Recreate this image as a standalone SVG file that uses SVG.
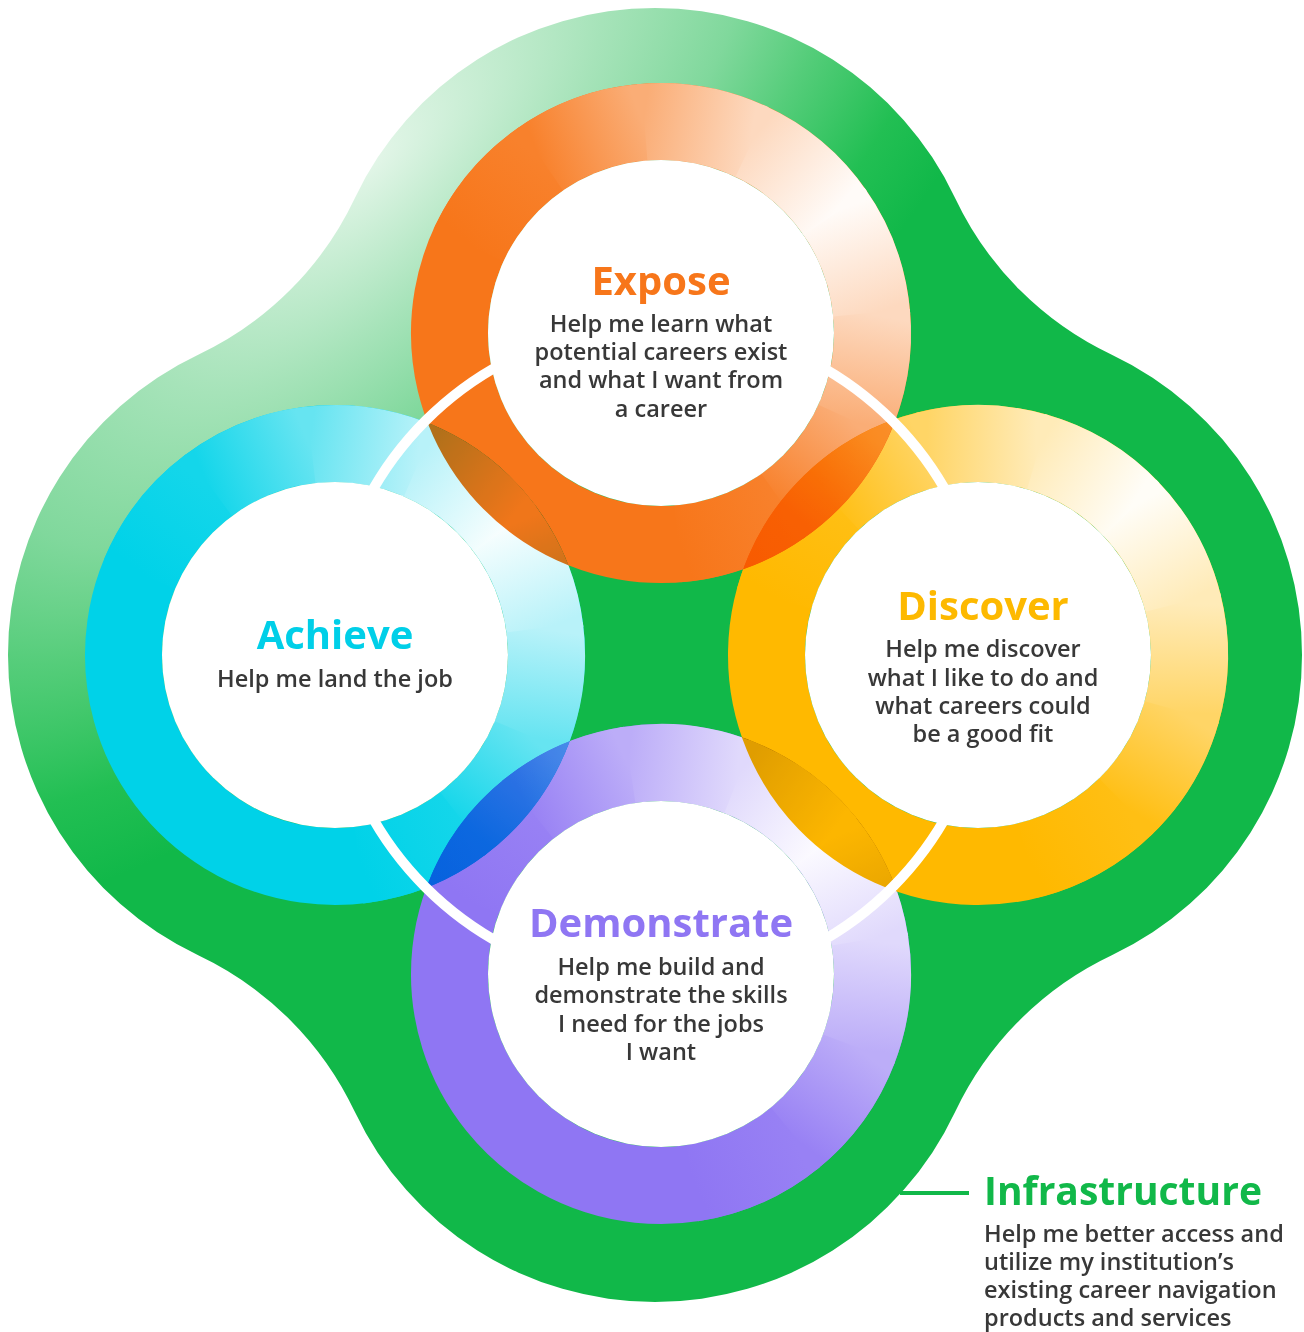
<svg xmlns="http://www.w3.org/2000/svg" width="1304" height="1332" viewBox="0 0 1304 1332">
  <style>
    .base { fill: none; stroke-width: 77; }
    .ring { mix-blend-mode: multiply; }
    .disc { fill: #ffffff; }
    .title { font-family: "Open Sans", "Noto Sans", sans-serif; font-weight: 700; font-size: 40px; text-anchor: middle; }
    .body { font-family: "Open Sans", "Noto Sans", sans-serif; font-weight: 600; font-size: 23.5px; fill: #383838; text-anchor: middle; }
    .sep { fill: none; stroke: #ffffff; stroke-width: 10; }
  </style>
  <defs>
    <!-- one 31° slice of a ring, centred on the +x axis -->
    <path id="seg" d="M203.81,-56.52 A211.5,211.5 0 0 1 203.81,56.52" fill="none" stroke-width="77"/>

    <!-- light sweep of the clover backdrop -->
    <radialGradient id="gGreen" gradientUnits="userSpaceOnUse" cx="0" cy="0" r="1" gradientTransform="translate(370 160) rotate(-45) scale(1000 450)">
      <stop offset="0" stop-color="#E4F6E9"/>
      <stop offset="0.3" stop-color="#A6E3B9"/>
      <stop offset="0.5" stop-color="#80D89C"/>
      <stop offset="0.65" stop-color="#55CD7A"/>
      <stop offset="0.85" stop-color="#22BF53"/>
      <stop offset="1" stop-color="#11B849"/>
    </radialGradient>

    <!-- ring fades: 0-30°, 30-60°, 60-90°, 90-120° away from the bright spot -->
    <linearGradient id="e0" gradientUnits="userSpaceOnUse" x1="0" y1="-54.74" x2="0" y2="54.74"><stop offset="0" stop-color="#FFFBF8"/><stop offset="1" stop-color="#FDD9BF"/></linearGradient>
    <linearGradient id="e1" gradientUnits="userSpaceOnUse" x1="0" y1="-54.74" x2="0" y2="54.74"><stop offset="0" stop-color="#FDD9BF"/><stop offset="1" stop-color="#FAAD76"/></linearGradient>
    <linearGradient id="e2" gradientUnits="userSpaceOnUse" x1="0" y1="-54.74" x2="0" y2="54.74"><stop offset="0" stop-color="#FAAD76"/><stop offset="1" stop-color="#F8812C"/></linearGradient>
    <linearGradient id="e3" gradientUnits="userSpaceOnUse" x1="0" y1="-54.74" x2="0" y2="54.74"><stop offset="0" stop-color="#F8812C"/><stop offset="1" stop-color="#F7761A"/></linearGradient>

    <linearGradient id="d0" gradientUnits="userSpaceOnUse" x1="0" y1="-54.74" x2="0" y2="54.74"><stop offset="0" stop-color="#FFFDF7"/><stop offset="1" stop-color="#FFEBB8"/></linearGradient>
    <linearGradient id="d1" gradientUnits="userSpaceOnUse" x1="0" y1="-54.74" x2="0" y2="54.74"><stop offset="0" stop-color="#FFEBB8"/><stop offset="1" stop-color="#FFD566"/></linearGradient>
    <linearGradient id="d2" gradientUnits="userSpaceOnUse" x1="0" y1="-54.74" x2="0" y2="54.74"><stop offset="0" stop-color="#FFD566"/><stop offset="1" stop-color="#FFBF14"/></linearGradient>
    <linearGradient id="d3" gradientUnits="userSpaceOnUse" x1="0" y1="-54.74" x2="0" y2="54.74"><stop offset="0" stop-color="#FFBF14"/><stop offset="1" stop-color="#FFB900"/></linearGradient>

    <linearGradient id="m0" gradientUnits="userSpaceOnUse" x1="0" y1="-54.74" x2="0" y2="54.74"><stop offset="0" stop-color="#FCFBFF"/><stop offset="1" stop-color="#E0D9FC"/></linearGradient>
    <linearGradient id="m1" gradientUnits="userSpaceOnUse" x1="0" y1="-54.74" x2="0" y2="54.74"><stop offset="0" stop-color="#E0D9FC"/><stop offset="1" stop-color="#BCADF8"/></linearGradient>
    <linearGradient id="m2" gradientUnits="userSpaceOnUse" x1="0" y1="-54.74" x2="0" y2="54.74"><stop offset="0" stop-color="#BCADF8"/><stop offset="1" stop-color="#9881F4"/></linearGradient>
    <linearGradient id="m3" gradientUnits="userSpaceOnUse" x1="0" y1="-54.74" x2="0" y2="54.74"><stop offset="0" stop-color="#9881F4"/><stop offset="1" stop-color="#8F76F3"/></linearGradient>

    <linearGradient id="a0" gradientUnits="userSpaceOnUse" x1="0" y1="-54.74" x2="0" y2="54.74"><stop offset="0" stop-color="#F7FEFE"/><stop offset="1" stop-color="#B8F2F9"/></linearGradient>
    <linearGradient id="a1" gradientUnits="userSpaceOnUse" x1="0" y1="-54.74" x2="0" y2="54.74"><stop offset="0" stop-color="#B8F2F9"/><stop offset="1" stop-color="#66E4F1"/></linearGradient>
    <linearGradient id="a2" gradientUnits="userSpaceOnUse" x1="0" y1="-54.74" x2="0" y2="54.74"><stop offset="0" stop-color="#66E4F1"/><stop offset="1" stop-color="#14D6EA"/></linearGradient>
    <linearGradient id="a3" gradientUnits="userSpaceOnUse" x1="0" y1="-54.74" x2="0" y2="54.74"><stop offset="0" stop-color="#14D6EA"/><stop offset="1" stop-color="#00D2E8"/></linearGradient>
  </defs>

  <!-- clover backdrop: four lobes joined by concave fillets -->
  <g id="infrastructure-shape">
    <path fill="url(#gGreen)" d="M354.8,198.2 A332,332 0 0 1 955.2,198.2 A328.25,328.25 0 0 0 1111.8,354.8 A332,332 0 0 1 1111.8,955.2 A328.25,328.25 0 0 0 955.2,1111.8 A332,332 0 0 1 354.8,1111.8 A328.25,328.25 0 0 0 198.2,955.2 A332,332 0 0 1 198.2,354.8 A328.25,328.25 0 0 0 354.8,198.2 Z"/>
  </g>

  <g id="nodes" style="isolation:isolate">
    <g id="node-expose">
      <g class="ring" transform="translate(661 333) rotate(-35)">
        <circle class="base" r="211.5" stroke="#F7761A"/>
        <use href="#seg" stroke="url(#e0)" transform="rotate(15)"/>
        <use href="#seg" stroke="url(#e1)" transform="rotate(45)"/>
        <use href="#seg" stroke="url(#e2)" transform="rotate(75)"/>
        <use href="#seg" stroke="url(#e3)" transform="rotate(105)"/>
        <use href="#seg" stroke="url(#e0)" transform="rotate(-15) scale(1 -1)"/>
        <use href="#seg" stroke="url(#e1)" transform="rotate(-45) scale(1 -1)"/>
        <use href="#seg" stroke="url(#e2)" transform="rotate(-75) scale(1 -1)"/>
        <use href="#seg" stroke="url(#e3)" transform="rotate(-105) scale(1 -1)"/>
      </g>
      <circle class="disc" cx="661" cy="333" r="173"/>
      <text class="title" x="661" y="295" fill="#F7761A">Expose</text>
      <text class="body" x="661" y="332">Help me learn what</text>
      <text class="body" x="661" y="360">potential careers exist</text>
      <text class="body" x="661" y="388">and what I want from</text>
      <text class="body" x="661" y="417">a career</text>
    </g>

    <g id="node-discover">
      <g class="ring" transform="translate(978 655) rotate(-44)">
        <circle class="base" r="211.5" stroke="#FFB900"/>
        <use href="#seg" stroke="url(#d0)" transform="rotate(15)"/>
        <use href="#seg" stroke="url(#d1)" transform="rotate(45)"/>
        <use href="#seg" stroke="url(#d2)" transform="rotate(75)"/>
        <use href="#seg" stroke="url(#d3)" transform="rotate(105)"/>
        <use href="#seg" stroke="url(#d0)" transform="rotate(-15) scale(1 -1)"/>
        <use href="#seg" stroke="url(#d1)" transform="rotate(-45) scale(1 -1)"/>
        <use href="#seg" stroke="url(#d2)" transform="rotate(-75) scale(1 -1)"/>
        <use href="#seg" stroke="url(#d3)" transform="rotate(-105) scale(1 -1)"/>
      </g>
      <circle class="disc" cx="978" cy="655" r="173"/>
      <text class="title" x="983" y="620" fill="#FDB900">Discover</text>
      <text class="body" x="983" y="657">Help me discover</text>
      <text class="body" x="983" y="686">what I like to do and</text>
      <text class="body" x="983" y="714">what careers could</text>
      <text class="body" x="983" y="742">be a good fit</text>
    </g>

    <g id="node-demonstrate">
      <g class="ring" transform="translate(661 974) rotate(-39)">
        <circle class="base" r="211.5" stroke="#8F76F3"/>
        <use href="#seg" stroke="url(#m0)" transform="rotate(15)"/>
        <use href="#seg" stroke="url(#m1)" transform="rotate(45)"/>
        <use href="#seg" stroke="url(#m2)" transform="rotate(75)"/>
        <use href="#seg" stroke="url(#m3)" transform="rotate(105)"/>
        <use href="#seg" stroke="url(#m0)" transform="rotate(-15) scale(1 -1)"/>
        <use href="#seg" stroke="url(#m1)" transform="rotate(-45) scale(1 -1)"/>
        <use href="#seg" stroke="url(#m2)" transform="rotate(-75) scale(1 -1)"/>
        <use href="#seg" stroke="url(#m3)" transform="rotate(-105) scale(1 -1)"/>
      </g>
      <circle class="disc" cx="661" cy="974" r="173"/>
      <text class="title" x="661" y="937" fill="#8F76F3">Demonstrate</text>
      <text class="body" x="661" y="975">Help me build and</text>
      <text class="body" x="661" y="1003">demonstrate the skills</text>
      <text class="body" x="661" y="1032">I need for the jobs</text>
      <text class="body" x="661" y="1060">I want</text>
    </g>

    <g id="node-achieve">
      <g class="ring" transform="translate(335 655) rotate(-37)">
        <circle class="base" r="211.5" stroke="#00D2E8"/>
        <use href="#seg" stroke="url(#a0)" transform="rotate(15)"/>
        <use href="#seg" stroke="url(#a1)" transform="rotate(45)"/>
        <use href="#seg" stroke="url(#a2)" transform="rotate(75)"/>
        <use href="#seg" stroke="url(#a3)" transform="rotate(105)"/>
        <use href="#seg" stroke="url(#a0)" transform="rotate(-15) scale(1 -1)"/>
        <use href="#seg" stroke="url(#a1)" transform="rotate(-45) scale(1 -1)"/>
        <use href="#seg" stroke="url(#a2)" transform="rotate(-75) scale(1 -1)"/>
        <use href="#seg" stroke="url(#a3)" transform="rotate(-105) scale(1 -1)"/>
      </g>
      <circle class="disc" cx="335" cy="655" r="173"/>
      <text class="title" x="335" y="649" fill="#00CFE8">Achieve</text>
      <text class="body" x="335" y="687">Help me land the job</text>
    </g>
  </g>

  <!-- white separators linking neighbouring stages -->
  <g id="connectors">
    <path class="sep" d="M367.6,499.1 A330,330 0 0 1 504.1,362.6"/>
    <path class="sep" d="M813.9,362.6 A330,330 0 0 1 950.4,499.1"/>
    <path class="sep" d="M950.4,808.9 A330,330 0 0 1 813.9,945.4"/>
    <path class="sep" d="M504.1,945.4 A330,330 0 0 1 367.6,808.9"/>
  </g>

  <g id="infrastructure-label">
    <line x1="900" y1="1193" x2="969" y2="1193" stroke="#11B849" stroke-width="4"/>
    <text class="title" x="984" y="1205" fill="#11B849" style="text-anchor:start;font-size:39px">Infrastructure</text>
    <text class="body" x="984" y="1242" style="text-anchor:start">Help me better access and</text>
    <text class="body" x="984" y="1270" style="text-anchor:start">utilize my institution’s</text>
    <text class="body" x="984" y="1298" style="text-anchor:start">existing career navigation</text>
    <text class="body" x="984" y="1326" style="text-anchor:start">products and services</text>
  </g>
</svg>
